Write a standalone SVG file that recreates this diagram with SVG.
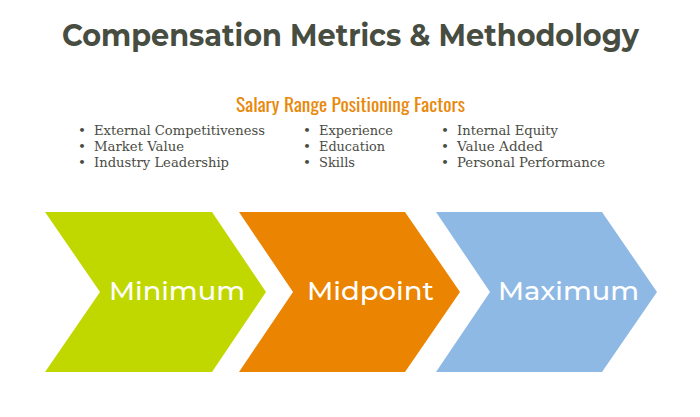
<svg xmlns="http://www.w3.org/2000/svg" width="700" height="417" viewBox="0 0 700 417">
<style>
.title{font-family:Montserrat,"Open Sans","Liberation Sans",sans-serif;font-weight:700;font-size:30px;fill:#474d40}
.sub{font-family:Oswald,"Liberation Sans Narrow","Liberation Sans",sans-serif;font-size:19px;fill:#e8890c}
.li{font-family:"Roboto Slab","DejaVu Serif","Liberation Serif",serif;font-size:13.5px;fill:#4a4c44}
.lab{font-family:Montserrat,"Open Sans","Liberation Sans",sans-serif;font-weight:500;font-size:26px;fill:#ffffff}
</style>
<rect width="700" height="417" fill="#ffffff"/>
<g id="title"><text class="title" x="62" y="45.5" textLength="577" lengthAdjust="spacingAndGlyphs">Compensation Metrics &amp; Methodology</text></g>
<g id="factors">
<text class="sub" x="236" y="111.5" textLength="229" lengthAdjust="spacingAndGlyphs">Salary Range Positioning Factors</text>
<g class="li">
<text x="78" y="135">•</text><text x="94" y="135" textLength="171" lengthAdjust="spacingAndGlyphs">External Competitiveness</text>
<text x="78" y="151">•</text><text x="94" y="151" textLength="90" lengthAdjust="spacingAndGlyphs">Market Value</text>
<text x="78" y="167">•</text><text x="94" y="167" textLength="135" lengthAdjust="spacingAndGlyphs">Industry Leadership</text>
<text x="303" y="135">•</text><text x="319" y="135" textLength="74" lengthAdjust="spacingAndGlyphs">Experience</text>
<text x="303" y="151">•</text><text x="319" y="151" textLength="66" lengthAdjust="spacingAndGlyphs">Education</text>
<text x="303" y="167">•</text><text x="319" y="167" textLength="36" lengthAdjust="spacingAndGlyphs">Skills</text>
<text x="441" y="135">•</text><text x="457" y="135" textLength="101" lengthAdjust="spacingAndGlyphs">Internal Equity</text>
<text x="441" y="151">•</text><text x="457" y="151" textLength="86" lengthAdjust="spacingAndGlyphs">Value Added</text>
<text x="441" y="167">•</text><text x="457" y="167" textLength="148" lengthAdjust="spacingAndGlyphs">Personal Performance</text>
</g>
</g>
<g id="connectors"></g>
<g id="minimum">
<polygon points="45,212 212,212 266,292 212,372 45,372 100,292" fill="#c0d800"/>
<text class="lab" x="109" y="300" textLength="136" lengthAdjust="spacingAndGlyphs">Minimum</text>
</g>
<g id="midpoint">
<polygon points="239,212 405,212 460,292 405,372 239,372 293,292" fill="#eb8400"/>
<text class="lab" x="307" y="300" textLength="127" lengthAdjust="spacingAndGlyphs">Midpoint</text>
</g>
<g id="maximum">
<polygon points="436,212 602,212 657,292 602,372 436,372 490,292" fill="#8fb9e5"/>
<text class="lab" x="498" y="300" textLength="141" lengthAdjust="spacingAndGlyphs">Maximum</text>
</g>
</svg>
